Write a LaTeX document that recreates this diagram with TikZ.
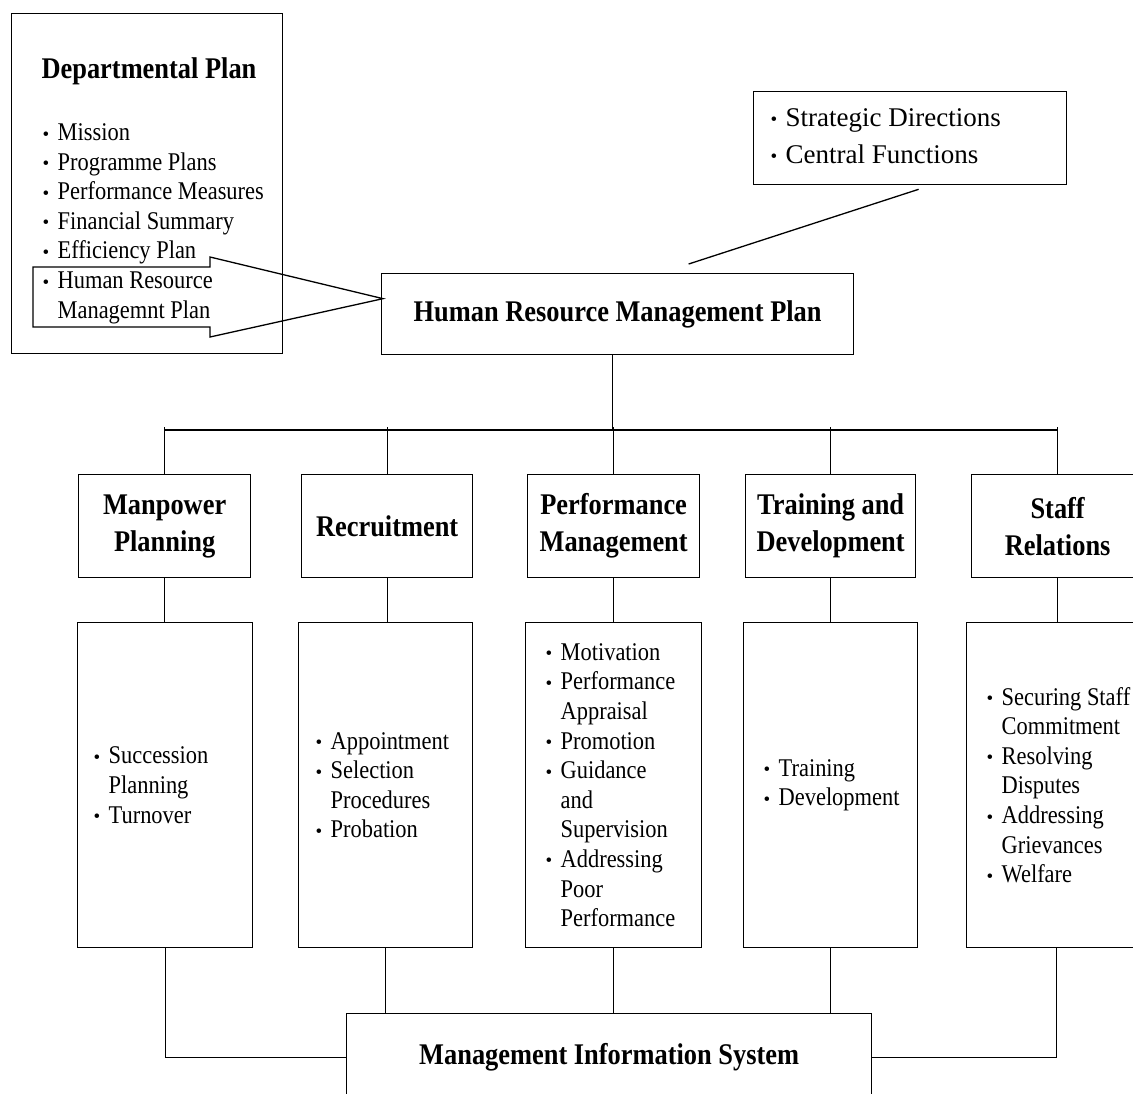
\documentclass[tikz,border=0pt]{standalone}
\usepackage{fontspec}
\setmainfont[FakeStretch=0.88]{Liberation Serif}
\newfontfamily\widefont{Liberation Serif}
\usetikzlibrary{calc}
\newcommand\bodyf{\fontsize{25.5}{29.6}\selectfont}
\newcommand\boldf{\fontsize{30}{37}\selectfont\bfseries}
\newcommand\blt{\makebox[15pt][l]{\raisebox{0.5pt}{\widefont\fontsize{19}{19}\selectfont •}}}
\newcommand\ind{\hspace*{15pt}}
\begin{document}
\begin{tikzpicture}[x=1pt,y=-1pt,line width=1.3pt,
  box/.style={draw,inner sep=0pt,anchor=north west},
  cat/.style={box,minimum height=103pt,align=center,font=\boldf},
  det/.style={box,minimum height=325pt},
  lst/.style={inner sep=0pt,align=left,font=\bodyf,anchor=west}]
\clip (0,0) rectangle (1133,1093);
\fill[white] (0,0) rectangle (1133,1093);

% departmental plan
\node[box,minimum width=271pt,minimum height=340pt] (dept) at (11,13) {};
\node[anchor=base,inner sep=0pt,font=\boldf] (depttitle) at (149,78) {Departmental Plan};
\node[lst,anchor=north west] (deptlist) at (42,123) {\blt Mission\\
\blt Programme Plans\\
\blt Performance Measures\\
\blt Financial Summary\\
\blt Efficiency Plan\\
\blt Human Resource\\
\ind Managemnt Plan};

% HRM plan
\node[box,minimum width=472pt,minimum height=81pt,font=\boldf] (hrmp) at (381,273) {Human Resource Management Plan};

% strategic box
\node[box,minimum width=313pt,minimum height=93pt] (strat) at (753,91) {};
\node[lst,font=\widefont\fontsize{27}{37}\selectfont] (stratlist) at ($(strat.west)+(17,-2)$) {\blt Strategic Directions\\
\blt Central Functions};

% block arrow
\coordinate (tip) at ($(hrmp.west)+(2,-15.5)$);
\draw (33,267) -- (210,267) -- (210,257) -- (tip) -- (210,337) -- (210,327) -- (33,327) -- cycle;

% strategic connector
\coordinate (sA) at ($(strat.south)+(8.5,4)$);
\coordinate (sB) at ($(hrmp.north)+(71,-9)$);
\draw (sA) -- (sB);

% category boxes
\node[cat,minimum width=172pt] (c1) at (78,474) {Manpower\\Planning};
\node[cat,minimum width=171pt] (c2) at (301,474) {Recruitment};
\node[cat,minimum width=172pt] (c3) at (527,474) {Performance\\Management};
\node[cat,minimum width=170pt] (c4) at (745,474) {Training and\\Development};
\node[cat,minimum width=172pt] (c5) at (971,474) {Staff\\Relations};

% detail boxes
\node[det,minimum width=175pt] (d1) at (77,622) {};
\node[det,minimum width=174pt] (d2) at (298,622) {};
\node[det,minimum width=176pt] (d3) at (525,622) {};
\node[det,minimum width=174pt] (d4) at (743,622) {};
\node[det,minimum width=180pt] (d5) at (966,622) {};

\node[lst] (l1) at ($(d1.west)+(16,0)$) {\blt Succession\\
\ind Planning\\
\blt Turnover};
\node[lst] (l2) at ($(d2.west)+(17,0)$) {\blt Appointment\\
\blt Selection\\
\ind Procedures\\
\blt Probation};
\node[lst] (l3) at ($(d3.west)+(20,0)$) {\blt Motivation\\
\blt Performance\\
\ind Appraisal\\
\blt Promotion\\
\blt Guidance\\
\ind and\\
\ind Supervision\\
\blt Addressing\\
\ind Poor\\
\ind Performance};
\node[lst] (l4) at ($(d4.west)+(20,0)$) {\blt Training\\
\blt Development};
\node[lst] (l5) at ($(d5.west)+(20,0)$) {\blt Securing Staff\\
\ind Commitment\\
\blt Resolving\\
\ind Disputes\\
\blt Addressing\\
\ind Grievances\\
\blt Welfare};

% MIS
\node[box,minimum width=525pt,minimum height=87pt,font=\boldf] (mis) at (346,1013) {Management Information System};

% bus
\coordinate (bus) at (0,430);
\coordinate (hdrop) at ($(hrmp.south)+(-5,0)$);
\draw (hdrop) -- (hdrop |- bus);
\draw (c1.north |- bus) -- (c5.north |- bus);
\foreach \i in {1,...,5}{
  \draw (c\i.north) -- ($(c\i.north |- bus)+(0,-3)$);
  \draw (c\i.south) -- (c\i.south |- d\i.north);
}
% to MIS
\draw (d1.south) |- (mis.west);
\draw (d5.south) |- (mis.east);
\foreach \i in {2,3,4}{
  \draw (d\i.south) -- (d\i.south |- mis.north);
}
\end{tikzpicture}
\end{document}
